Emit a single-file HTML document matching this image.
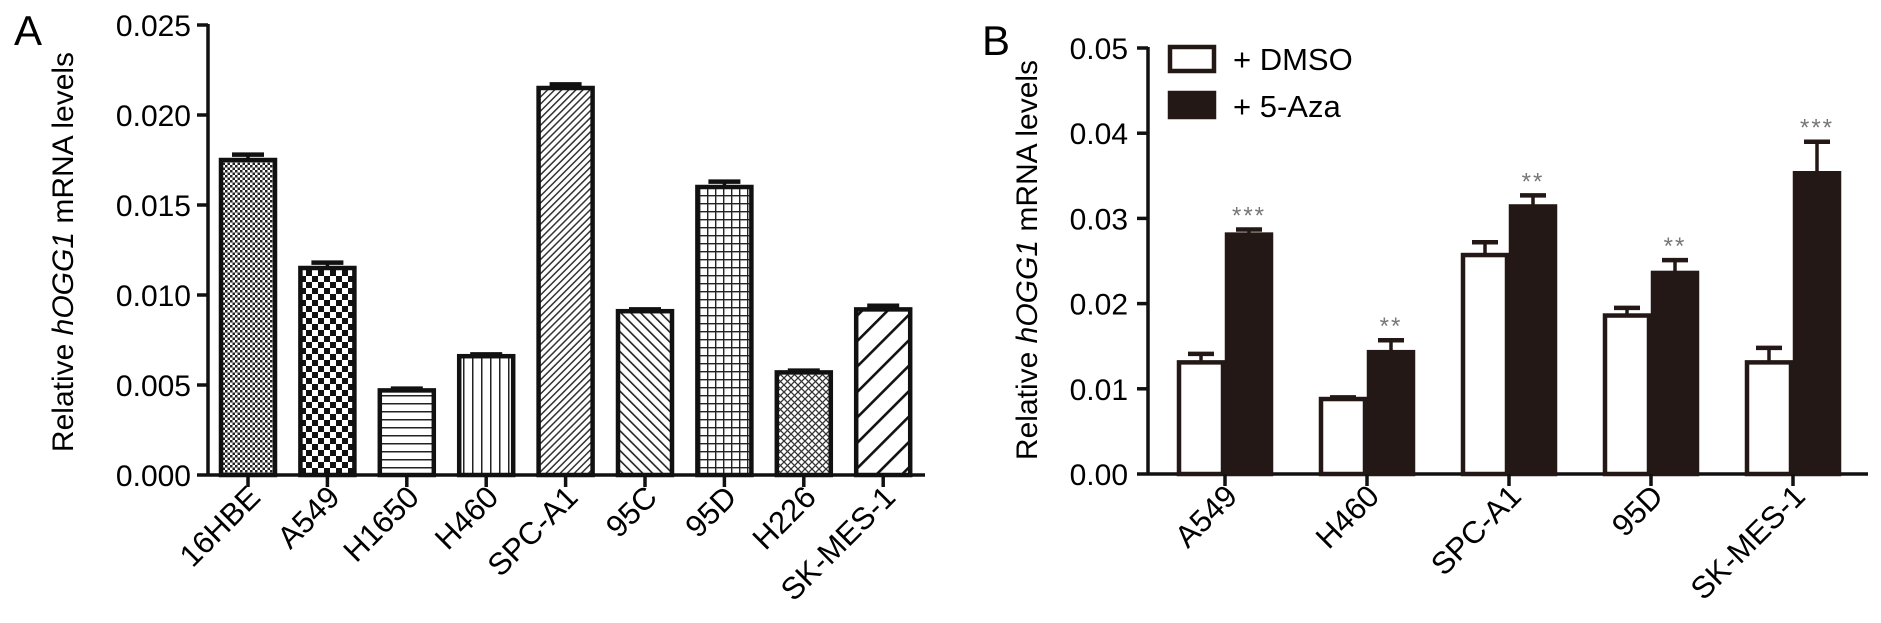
<!DOCTYPE html>
<html><head><meta charset="utf-8"><style>
html,body{margin:0;padding:0;background:#fff;}
svg{display:block;font-family:"Liberation Sans",Arial,sans-serif;}
</style></head><body>
<svg id="fig" width="1881" height="623" viewBox="0 0 1881 623" xmlns="http://www.w3.org/2000/svg">
<defs>
<pattern id="p0" width="5" height="5" patternUnits="userSpaceOnUse"><rect width="5" height="5" fill="#fff"/><rect width="2.5" height="2.5" fill="#222"/><rect x="2.5" y="2.5" width="2.5" height="2.5" fill="#222"/></pattern>
<pattern id="p1" width="12" height="12" patternUnits="userSpaceOnUse"><rect width="12" height="12" fill="#fff"/><rect width="6" height="6" fill="#111"/><rect x="6" y="6" width="6" height="6" fill="#111"/></pattern>
<pattern id="p2" width="8" height="8" patternUnits="userSpaceOnUse"><rect width="8" height="8" fill="#fff"/><rect y="3" width="8" height="1.5" fill="#222"/></pattern>
<pattern id="p3" width="9" height="9" patternUnits="userSpaceOnUse"><rect width="9" height="9" fill="#fff"/><rect x="4" width="1.5" height="9" fill="#222"/></pattern>
<pattern id="p4" width="5" height="5" patternUnits="userSpaceOnUse" patternTransform="rotate(45)"><rect width="5" height="5" fill="#fff"/><rect width="1.5" height="5" fill="#333"/></pattern>
<pattern id="p5" width="7" height="7" patternUnits="userSpaceOnUse" patternTransform="rotate(-45)"><rect width="7" height="7" fill="#fff"/><rect width="1.6" height="7" fill="#222"/></pattern>
<pattern id="p6" width="8" height="8" patternUnits="userSpaceOnUse"><rect width="8" height="8" fill="#fff"/><rect y="3" width="8" height="1.4" fill="#222"/><rect x="3" width="1.4" height="8" fill="#222"/></pattern>
<pattern id="p7" width="7" height="7" patternUnits="userSpaceOnUse"><rect width="7" height="7" fill="#fff"/><path d="M0 7L7 0M0 0L7 7" stroke="#333" stroke-width="1.3"/></pattern>
<pattern id="p8" width="18" height="18" patternUnits="userSpaceOnUse" patternTransform="rotate(45)"><rect width="18" height="18" fill="#fff"/><rect width="2.6" height="18" fill="#111"/></pattern>
</defs>
<g id="ga"></g>
<g id="gb"></g>
</svg>
<script>
const catsA = ["16HBE","A549","H1650","H460","SPC-A1","95C","95D","H226","SK-MES-1"];
const valsA = [0.0175,0.0115,0.0047,0.0066,0.0215,0.0091,0.0160,0.0057,0.0092];
const errsA = [0.0003,0.0003,0.0001,0.0001,0.0002,0.0001,0.0003,0.0001,0.0002];
const ticksA = ["0.000","0.005","0.010","0.015","0.020","0.025"];
const catsB = ["A549","H460","SPC-A1","95D","SK-MES-1"];
const dmso = [0.0131,0.0088,0.0257,0.0186,0.0131];
const dmsoErr = [0.0010,0.0002,0.0015,0.0009,0.0017];
const aza = [0.0281,0.0143,0.0314,0.0236,0.0353];
const azaErr = [0.0006,0.0014,0.0013,0.0015,0.0037];
const stars = ["***","**","**","**","***"];
const ticksB = ["0.00","0.01","0.02","0.03","0.04","0.05"];

const NS="http://www.w3.org/2000/svg";
function mk(parent,tag,attrs,text){const e=document.createElementNS(NS,tag);for(const k in attrs)e.setAttribute(k,attrs[k]);if(text!==undefined)e.textContent=text;parent.appendChild(e);return e;}

// Panel A
const ga=document.getElementById('ga');
const axA=208, y0A=475, y1A=25, maxA=0.025;
const yA=v=>y0A-(v/maxA)*(y0A-y1A);
const xA=i=>248+i*79.4;
let t=mk(ga,'text',{x:14,y:45,'font-size':42},'A');


t=mk(ga,'text',{transform:'translate(73,252) rotate(-90)','text-anchor':'middle','font-size':30});


t.innerHTML='Relative <tspan font-style="italic">hOGG1</tspan> mRNA levels';
let l=mk(ga,'line',{x1:axA,y1:y1A-1,x2:axA,y2:y0A,stroke:'#111','stroke-width':3.5});


ticksA.forEach(s=>{const y=yA(parseFloat(s));
 mk(ga,'line',{x1:axA-11,y1:y,x2:axA,y2:y,stroke:'#111','stroke-width':3.5});
 const tt=mk(ga,'text',{x:axA-17,y:y+11,'text-anchor':'end','font-size':30},s);
 
 
});
l=mk(ga,'line',{x1:axA,y1:y0A,x2:925,y2:y0A,stroke:'#111','stroke-width':3.5});


catsA.forEach((c,i)=>{const cx=xA(i),w=54,top=yA(valsA[i]),et=yA(valsA[i]+errsA[i]);
 mk(ga,'line',{x1:cx,y1:et,x2:cx,y2:top,stroke:'#111','stroke-width':3.5});
 mk(ga,'line',{x1:cx-16,y1:et,x2:cx+16,y2:et,stroke:'#111','stroke-width':4.5});
 const r=mk(ga,'rect',{x:cx-w/2,y:top,width:w,height:y0A-top,fill:'url(#p'+i+')',stroke:'#111','stroke-width':4.5});
 
 
 mk(ga,'line',{x1:cx,y1:y0A,x2:cx,y2:y0A+12,stroke:'#111','stroke-width':3.5});
 const tt=mk(ga,'text',{transform:`translate(${cx+14},${y0A+24}) rotate(-45)`,'text-anchor':'end','font-size':31},c);
 
 
});

// Panel B
const gb=document.getElementById('gb');
const axB=1148, y0B=474, y1B=48, maxB=0.05;
const yB=v=>y0B-(v/maxB)*(y0B-y1B);
const xB=i=>1225+i*142;
t=mk(gb,'text',{x:982,y:55,'font-size':42},'B');


t=mk(gb,'text',{transform:'translate(1037,260) rotate(-90)','text-anchor':'middle','font-size':30});


t.innerHTML='Relative <tspan font-style="italic">hOGG1</tspan> mRNA levels';
l=mk(gb,'line',{x1:axB,y1:y1B-1,x2:axB,y2:y0B,stroke:'#111','stroke-width':3.5});


ticksB.forEach(s=>{const y=yB(parseFloat(s));
 mk(gb,'line',{x1:axB-11,y1:y,x2:axB,y2:y,stroke:'#111','stroke-width':3.5});
 const tt=mk(gb,'text',{x:axB-20,y:y+11,'text-anchor':'end','font-size':30},s);
 
 
});
l=mk(gb,'line',{x1:axB,y1:y0B,x2:1868,y2:y0B,stroke:'#111','stroke-width':3.5});


catsB.forEach((c,i)=>{const cx=xB(i),w=44;
 [[dmso,dmsoErr,'#fff',-w/2-2,'dmso'],[aza,azaErr,'#231815',w/2+2,'aza']].forEach(([v,e,fill,off,nm])=>{
  const bx=cx+off,top=yB(v[i]),et=yB(v[i]+e[i]);
  mk(gb,'line',{x1:bx,y1:et,x2:bx,y2:top,stroke:'#231815','stroke-width':3.5});
  mk(gb,'line',{x1:bx-13,y1:et,x2:bx+13,y2:et,stroke:'#231815','stroke-width':4.5});
  const r=mk(gb,'rect',{x:bx-w/2,y:top,width:w,height:y0B-top,fill:fill,stroke:'#231815','stroke-width':4.5});
  
  
  if(nm==='aza'){const st=mk(gb,'text',{x:bx,y:et-6,'text-anchor':'middle','font-size':24,fill:'#777','letter-spacing':'2'},stars[i]);
   
   }
 });
 mk(gb,'line',{x1:cx,y1:y0B,x2:cx,y2:y0B+12,stroke:'#111','stroke-width':3.5});
 const tt=mk(gb,'text',{transform:`translate(${cx+14},${y0B+24}) rotate(-45)`,'text-anchor':'end','font-size':31},c);
 
 
});
// legend
let lg=mk(gb,'g',{});


let le=mk(lg,'rect',{x:1170,y:47,width:44,height:24,fill:'#fff',stroke:'#231815','stroke-width':4.5});


mk(lg,'text',{x:1233,y:70,'font-size':31},'+ DMSO');
le=mk(lg,'rect',{x:1170,y:93,width:44,height:24,fill:'#231815',stroke:'#231815','stroke-width':4.5});


mk(lg,'text',{x:1233,y:117,'font-size':31},'+ 5-Aza');
</script>
</body></html>
